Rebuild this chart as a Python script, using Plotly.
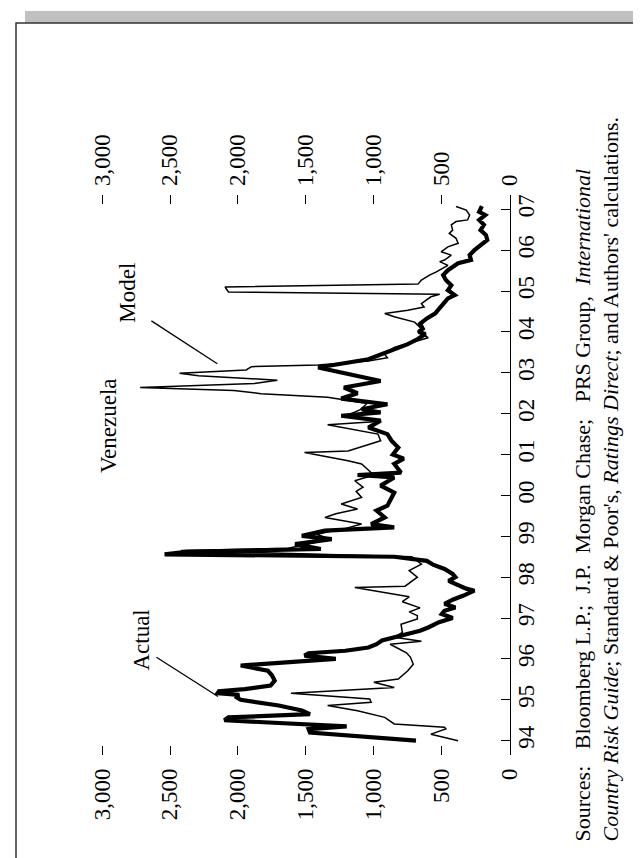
import plotly.graph_objects as go

# ---------------- data ----------------
actual_t = [1994.00, 1994.20, 1994.28, 1994.35, 1994.50, 1994.57, 1994.65, 1994.74, 1994.86,
            1995.00, 1995.08, 1995.12, 1995.16, 1995.21, 1995.26, 1995.35, 1995.47, 1995.60,
            1995.71, 1995.84, 1996.00, 1996.08, 1996.14, 1996.20, 1996.28, 1996.36, 1996.45,
            1996.57, 1996.69, 1996.77, 1996.90, 1997.00, 1997.10, 1997.18, 1997.26, 1997.35,
            1997.45, 1997.55, 1997.62, 1997.67, 1997.72, 1997.80, 1997.91, 1998.00, 1998.08,
            1998.20, 1998.30, 1998.40, 1998.50, 1998.56, 1998.62, 1998.69, 1998.81, 1998.93,
            1999.01, 1999.14, 1999.22, 1999.30, 1999.46, 1999.63, 1999.75, 2000.07, 2000.24,
            2000.44, 2000.50, 2000.56, 2000.77, 2000.90, 2001.00, 2001.17, 2001.34, 2001.50,
            2001.66, 2001.83, 2001.95, 2002.03, 2002.11, 2002.23, 2002.37, 2002.50, 2002.64,
            2002.80, 2002.93, 2003.13, 2003.33, 2003.54, 2003.70, 2003.82, 2003.95, 2004.00,
            2004.08, 2004.20, 2004.33, 2004.45, 2004.57, 2004.69, 2004.82, 2004.90, 2005.02,
            2005.14, 2005.27, 2005.39, 2005.51, 2005.59, 2005.68, 2005.76, 2005.88, 2006.00,
            2006.13, 2006.25, 2006.37, 2006.49, 2006.62, 2006.74, 2006.86, 2006.94, 2007.08]
actual_v = [690, 1470, 1480, 1200, 2100, 2070, 1470, 1530, 1700,
            1980, 2020, 1990, 2150, 2140, 1950, 1760, 1730, 1750,
            1780, 1980, 1280, 1510, 1480, 1210, 1040, 980, 940,
            800, 660, 600, 520, 420, 500, 480, 400, 480,
            420, 340, 300, 260, 320, 380, 450, 400, 420,
            480, 560, 610, 850, 2540, 2380, 1390, 1580, 1310,
            1530, 1360, 850, 1020, 920, 980, 900, 850, 950,
            850, 1120, 800, 850, 780, 860, 820, 870, 900,
            1040, 950, 1240, 950, 1090, 900, 1240, 1120, 1220,
            950, 1120, 1410, 1040, 870, 750, 680, 620, 670,
            640, 660, 610, 550, 520, 480, 455, 405, 455,
            430, 470, 490, 455, 420, 380, 285, 295, 260,
            205, 165, 175, 215, 190, 225, 180, 225, 205]

model_t = [1994.00, 1994.16, 1994.29, 1994.33, 1994.41, 1994.57, 1994.73, 1994.86, 1994.94,
           1995.02, 1995.16, 1995.30, 1995.43, 1995.51, 1995.71, 1995.87, 1996.04, 1996.15,
           1996.36, 1996.43, 1996.53, 1996.65, 1996.85, 1996.98, 1997.06, 1997.15, 1997.25,
           1997.40, 1997.52, 1997.75, 1997.78, 1998.00, 1998.16, 1998.32, 1998.50, 1998.65,
           1998.71, 1998.81, 1998.93, 1999.05, 1999.20, 1999.30, 1999.46, 1999.55, 1999.67,
           1999.79, 1999.95, 2000.10, 2000.20, 2000.36, 2000.50, 2000.77, 2000.85, 2001.05,
           2001.09, 2001.34, 2001.50, 2001.73, 2001.80, 2001.87, 2001.95, 2002.10, 2002.25,
           2002.40, 2002.49, 2002.57, 2002.64, 2002.74, 2002.82, 2002.93, 2002.99, 2003.07,
           2003.15, 2003.19, 2003.29, 2003.37, 2003.45, 2003.62, 2003.78, 2003.86, 2004.00,
           2004.08, 2004.24, 2004.37, 2004.45, 2004.53, 2004.61, 2004.69, 2004.86, 2004.92,
           2004.98, 2005.10, 2005.17, 2005.27, 2005.39, 2005.47, 2005.63, 2005.72, 2005.76,
           2005.88, 2005.96, 2006.08, 2006.17, 2006.29, 2006.41, 2006.49, 2006.62, 2006.70,
           2006.74, 2006.86, 2006.98, 2007.07]
model_v = [380, 580, 470, 480, 850, 920, 1120, 1340, 1020,
           1030, 1610, 850, 1000, 820, 750, 710, 730, 760,
           880, 650, 850, 790, 800, 680, 680, 740, 660,
           790, 740, 1140, 770, 680, 740, 650, 720, 2420,
           1630, 1500, 1320, 1420, 1200, 1090, 1360, 1280, 1120,
           1240, 1090, 1130, 1080, 1140, 1000, 1090, 1190, 1510,
           1190, 950, 970, 1340, 1000, 1040, 1200, 1100, 1050,
           1340, 1830, 2030, 2720, 1880, 1710, 2290, 2430, 1940,
           1900, 1410, 1040, 900, 920, 850, 680, 600, 675,
           650, 700, 850, 920, 750, 630, 650, 580, 515,
           2070, 2095, 675, 650, 590, 540, 455, 515, 480,
           430, 505, 455, 380, 395, 445, 420, 430, 395,
           310, 295, 320, 395]

year_ticks = list(range(1994, 2008))
year_labels = ["94", "95", "96", "97", "98", "99", "00", "01", "02", "03", "04", "05", "06", "07"]
value_ticks = [0, 500, 1000, 1500, 2000, 2500, 3000]
value_labels = ["0", "500", "1,000", "1,500", "2,000", "2,500", "3,000"]

# ---------------- layout geometry (pixels) ----------------
W, H = 641, 858
L, R, T, B = 90, 502, 187, 747
PW, PH = R - L, B - T
V_MAX, V_MIN = 3030, -2


def px(x):
    return (x - L) / PW


def py(y):
    return (B - y) / PH


FONT = "Liberation Serif"
FS = 23

fig = go.Figure()
fig.add_trace(go.Scatter(x=actual_v, y=actual_t, mode="lines", name="Actual",
                         line=dict(color="black", width=4.2), xaxis="x", yaxis="y"))
fig.add_trace(go.Scatter(x=model_v, y=model_t, mode="lines", name="Model",
                         line=dict(color="black", width=1.5), xaxis="x2", yaxis="y"))

axis_common = dict(range=[V_MAX, V_MIN], tickmode="array", tickvals=value_ticks, ticktext=value_labels,
                   ticks="inside", ticklen=9, tickwidth=1.2, tickcolor="black",
                   tickangle=-90, showline=False, showgrid=False, zeroline=False,
                   tickfont=dict(family=FONT, size=FS, color="black"), ticklabelstandoff=8)

fig.update_layout(
    width=W, height=H,
    margin=dict(l=L, r=W - R, t=T, b=H - B, pad=0),
    paper_bgcolor="white", plot_bgcolor="white",
    showlegend=False,
    xaxis=dict(side="bottom", anchor="y", **axis_common),
    xaxis2=dict(side="top", anchor="y", overlaying="x", **axis_common),
    yaxis=dict(range=[1993.65, 2007.35], side="right", tickmode="array",
               tickvals=year_ticks, ticktext=year_labels, ticks="inside", ticklen=9,
               tickwidth=1.2, tickcolor="black", tickangle=-90, showline=True,
               linecolor="black", linewidth=1.3, showgrid=False, zeroline=False,
               tickfont=dict(family=FONT, size=FS, color="black"), ticklabelstandoff=-5),
)

shapes = [
    dict(type="rect", xref="paper", yref="paper", x0=px(17), x1=px(648), y0=py(15), y1=py(3),
         fillcolor="#c0c0c0", line=dict(width=0), layer="below"),
    dict(type="rect", xref="paper", yref="paper", x0=px(8), x1=px(639), y0=py(880), y1=py(15),
         fillcolor="rgba(0,0,0,0)", line=dict(color="#333333", width=1.5)),
    dict(type="line", xref="x", yref="y", x0=2600, y0=1996.04, x1=2147, y1=1995.08,
         line=dict(color="black", width=1.3)),
    dict(type="line", xref="x2", yref="y", x0=2637, y0=2004.27, x1=2152, y1=2003.22,
         line=dict(color="black", width=1.3)),
]
fig.update_layout(shapes=shapes)

NB = "&nbsp;"
annotations = [
    dict(text="Venezuela", xref="paper", yref="paper", x=px(100), y=py(418), textangle=-90,
         showarrow=False, xanchor="center", yanchor="middle",
         font=dict(family=FONT, size=23, color="black")),
    dict(text="Actual", xref="x", yref="y", x=2706, y=1996.45, textangle=-90, showarrow=False,
         xanchor="center", yanchor="middle", font=dict(family=FONT, size=FS, color="black")),
    dict(text="Model", xref="x", yref="y", x=2809, y=2004.96, textangle=-90, showarrow=False,
         xanchor="center", yanchor="middle", font=dict(family=FONT, size=FS, color="black")),
    dict(text="Sources:" + NB * 2 + " Bloomberg L.P.;" + NB + " J.P." + NB + " Morgan Chase;" + NB * 2
              + " PRS Group," + NB + " <i>International</i><br>"
              "<i>Country Risk Guide</i>; Standard &amp; Poor's, <i>Ratings Direct</i>; and Authors' calculations.",
         xref="paper", yref="paper", x=px(588), y=py(836), textangle=-90, showarrow=False,
         xanchor="center", yanchor="bottom", align="left",
         font=dict(family=FONT, size=22, color="black")),
]
fig.update_layout(annotations=annotations)

fig.write_html("out.html")
